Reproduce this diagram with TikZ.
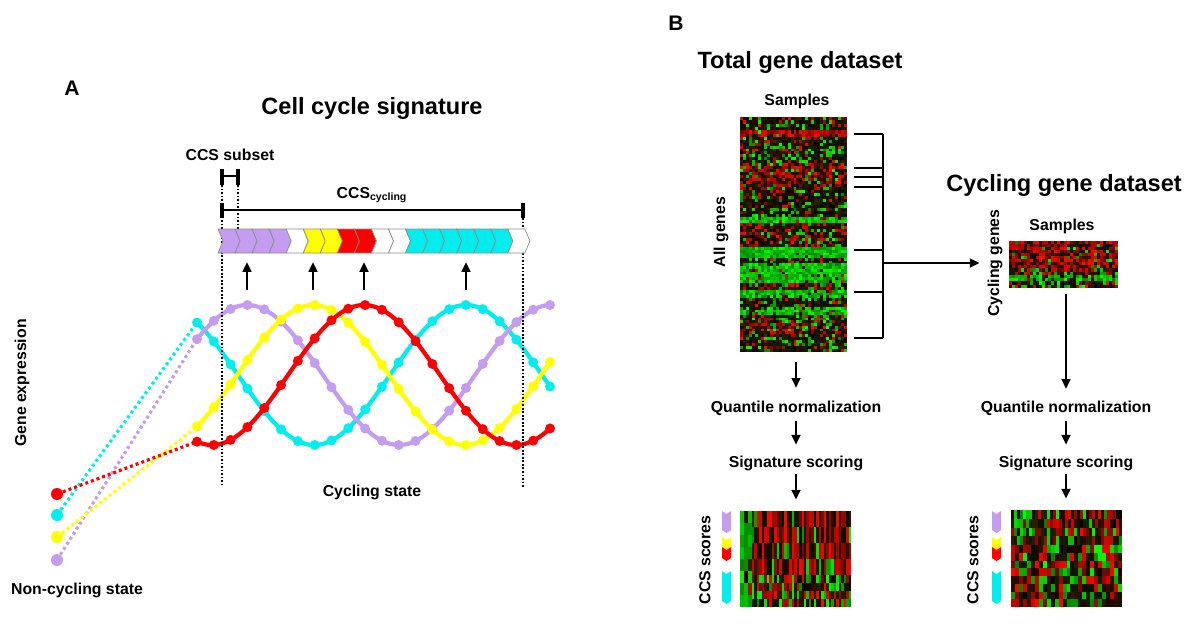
\documentclass[tikz,border=0pt]{standalone}
\usepackage{fontspec}
\setmainfont{Liberation Sans}
\usetikzlibrary{arrows.meta, positioning, calc}

\definecolor{ccsPurple}{RGB}{196,156,240}
\definecolor{ccsYellow}{RGB}{255,255,0}
\definecolor{ccsRed}{RGB}{255,0,0}
\definecolor{ccsCyan}{RGB}{0,238,238}

% random expression block: x0,y0,x1,y1, cell w, cell h, p(red), p(green)
\newcommand{\heatblock}[8]{%
  \pgfmathtruncatemacro\hbnx{max(1,round((#3-#1)/#5))-1}%
  \pgfmathtruncatemacro\hbny{max(1,round((#4-#2)/#6))-1}%
  \pgfmathsetmacro\hbdx{(#3-#1)/(\hbnx+1)}%
  \pgfmathsetmacro\hbdy{(#4-#2)/(\hbny+1)}%
  \foreach \i in {0,...,\hbnx}{%
    \foreach \j in {0,...,\hbny}{%
      \pgfmathsetmacro\hbu{rnd}%
      \pgfmathsetmacro\hbv{rnd}%
      \pgfmathsetmacro\hbw{rnd}%
      \pgfmathtruncatemacro\hbr{\hbu<#7 ? 110+145*\hbv : ((\hbu<(#7+#8)) ? 15*\hbw : 50*\hbw)}%
      \pgfmathtruncatemacro\hbg{\hbu<#7 ? 15*\hbw : ((\hbu<(#7+#8)) ? 130+125*\hbv : 35*\hbv)}%
      \fill[fill={rgb,255:red,\hbr;green,\hbg;blue,0}] ({#1+\i*\hbdx},{#2+\j*\hbdy}) rectangle ++(\hbdx+0.3,\hbdy+0.3);
    }%
  }%
}

\begin{document}
\begin{tikzpicture}[
    x=0.02cm, y=-0.02cm,
    ttl/.style={font=\bfseries\fontsize{13.4}{16}\selectfont, inner sep=1pt},
    panel/.style={font=\bfseries\fontsize{12}{14}\selectfont, inner sep=1pt},
    lbl/.style={font=\bfseries\fontsize{9}{11}\selectfont, inner sep=1pt},
    arr/.style={-{Triangle[length=5.5pt, width=5pt]}, line width=1.1pt},
    tick/.style={line width=2pt},
    brk/.style={line width=1.1pt},
    vdot/.style={line width=1pt, dash pattern=on 1pt off 1pt},
    chev/.style={draw=black!45, line width=0.4pt},
    wave/.style={line width=2.4pt},
    link/.style={line width=1.8pt, dash pattern=on 1.7pt off 1.7pt},
    dot/.style={circle, inner sep=0pt, minimum size=0.24cm},
    mapbox/.style={inner sep=0pt, draw=none},
]
\pgfmathsetseed{4213}
\fill[white] (0,0) rectangle (1200,623);
\useasboundingbox (0,0) rectangle (1200,623);

% ---------------- panel A
\node[panel] (labA) at (72,88) {A};
\node[ttl] (ccsTitle) at (372,108) {Cell cycle signature};
\node[lbl] (subsetLbl) at (230,155) {CCS subset};
\node[lbl, anchor=base] (cyclingLbl) at (372,198) {CCS\textsubscript{cycling}};

\draw[tick] (222,169) -- (222,185);
\draw[tick] (238,169) -- (238,185);
\draw[brk] (222,176) -- (238,176);
\draw[tick] (222,203) -- (222,218);
\draw[tick] (523,203) -- (523,218);
\draw[brk] (222,210) -- (523,210);

% expression waves
\foreach \pk/\col in {466/ccsCyan, 247/ccsPurple, 313/ccsYellow, 364/ccsRed} {
  \draw[wave, \col] plot[domain=197:550, samples=70, smooth] (\x, {375-70*cos(((\x-\pk)/304)*360)});
  \foreach \k in {0,...,21}
    \fill[\col] ({197+\k*16.81}, {375-70*cos(((197+\k*16.81-\pk)/304)*360)}) circle (5);
}

\coordinate (sC) at (197,322.5);
\coordinate (sP) at (197,339);
\coordinate (sY) at (197,426.6);
\coordinate (sR) at (197,441.6);
\node[dot, fill=ccsRed] (dR) at (57,494) {};
\node[dot, fill=ccsCyan] (dC) at (57,515) {};
\node[dot, fill=ccsYellow] (dY) at (57,537) {};
\node[dot, fill=ccsPurple] (dP) at (57,560) {};
\draw[link, ccsCyan] (dC) -- (sC);
\draw[link, ccsPurple] (dP) -- (sP);
\draw[link, ccsYellow] (dY) -- (sY);
\draw[link, ccsRed] (dR) -- (sR);

\draw[vdot] (222,185) -- (222,487);
\draw[vdot] (238,185) -- (238,229);
\draw[vdot] (523,218) -- (523,487);

% signature bar
\foreach \c [count=\n from 0] in {ccsPurple,ccsPurple,ccsPurple,ccsPurple,white,ccsYellow,ccsYellow,ccsRed,ccsRed,white,white,ccsCyan,ccsCyan,ccsCyan,ccsCyan,ccsCyan,ccsCyan,white}
  \filldraw[chev, fill=\c] ({218+\n*17.05},229) -- ++(17.05,0) -- ++(5,12) -- ++(-5,12) -- ++(-17.05,0) -- ++(5,-12) -- cycle;
\node[mapbox, minimum width=6.24cm, minimum height=0.48cm] (bar) at (374,241) {};

\foreach \pk [count=\n] in {247,313,364,466} {
  \coordinate (pk\n) at (\pk,290);
  \draw[arr, shorten >=5pt] (pk\n) -- (pk\n |- bar.south);
}

\node[lbl, rotate=90] (geneExpr) at (22,383) {Gene expression};
\node[lbl] (cycState) at (372,492) {Cycling state};
\node[lbl] (nonCyc) at (77,590) {Non-cycling state};

% ---------------- panel B
\node[panel] (labB) at (676,23) {B};
\node[ttl] (totalTtl) at (800,62) {Total gene dataset};
\node[lbl] (samplesA) at (797,101) {Samples};

\foreach \ya/\yb/\pr/\pg in {117/130/0.15/0.2, 130/137/0.75/0.05, 137/163/0.1/0.25, 163/190/0.4/0.1,
    190/217/0.15/0.15, 217/223/0.05/0.85, 223/247/0.3/0.12, 247/258/0.02/0.95, 258/263/0.1/0.2,
    263/283/0.04/0.9, 283/290/0.3/0.15, 290/298/0.05/0.85, 298/307/0.12/0.2, 307/315/0.05/0.75,
    315/323/0.15/0.2, 323/337/0.35/0.12, 337/352/0.12/0.25}
  \heatblock{740}{\ya}{847}{\yb}{3}{3}{\pr}{\pg};
\node[mapbox, minimum width=2.14cm, minimum height=4.7cm] (totalMap) at (793.5,234.5) {};
\node[lbl, rotate=90] (allGenes) at (721,232) {All genes};

\foreach \y in {134,168,177,187,250,292,338}
  \draw[brk] (854,\y) -- (883,\y);
\draw[brk] (883,134) -- (883,338);
\coordinate (brkMid) at (883,263);

\node[ttl] (cycTtl) at (1064,185) {Cycling gene dataset};
\node[lbl] (samplesB) at (1062,226) {Samples};
\foreach \ya/\yb/\pr/\pg in {241/268/0.55/0.08, 268/275/0.25/0.15, 275/281/0.05/0.8, 281/288/0.2/0.2}
  \heatblock{1009}{\ya}{1118}{\yb}{3}{3}{\pr}{\pg};
\node[mapbox, minimum width=2.18cm, minimum height=0.94cm] (cycMap) at (1063.5,264.5) {};
\node[lbl, rotate=90] (cycGenes) at (995,263) {Cycling genes};
\draw[arr, shorten >=3.4pt] (brkMid) -- (brkMid -| cycGenes.north);

% processing steps
\node[lbl, anchor=base] (qnA) at (796,412.5) {Quantile normalization};
\node[lbl, anchor=base] (ssA) at (796,467) {Signature scoring};
\node[lbl, anchor=base] (qnB) at (1066,412.5) {Quantile normalization};
\node[lbl, anchor=base] (ssB) at (1066,467) {Signature scoring};

% score maps
\heatblock{740}{511}{752}{607}{4}{12}{0.02}{0.85}
\heatblock{752}{511}{851}{575}{2.5}{16}{0.45}{0.12}
\heatblock{752}{575}{851}{607}{2.5}{8}{0.3}{0.25}
\heatblock{1011}{510}{1122}{545}{3}{9}{0.3}{0.25}
\heatblock{1011}{545}{1122}{607}{4}{8}{0.28}{0.3}
\node[mapbox, minimum width=2.22cm, minimum height=1.92cm] (scoreA) at (795.5,559) {};
\node[mapbox, minimum width=2.22cm, minimum height=1.94cm] (scoreB) at (1066.5,558.5) {};

\foreach \bx in {722,992}
  \foreach \ya/\yb/\col in {511/530/ccsPurple, 537/547/ccsYellow, 547/558/ccsRed, 571/601/ccsCyan}
    \fill[\col] (\bx,\ya) -- ++(4.5,3) -- ++(4.5,-3) -- (\bx+9,\yb) -- ++(-4.5,3) -- ++(-4.5,-3) -- cycle;
\node[lbl, rotate=90] (scoresA) at (705,560) {CCS scores};
\node[lbl, rotate=90] (scoresB) at (973,560) {CCS scores};

\draw[arr, shorten <=5.7pt, shorten >=6.4pt] (totalMap.south -| qnA.north) -- (qnA.north);
\draw[arr, shorten <=1.7pt, shorten >=5pt] (qnA) -- (ssA);
\draw[arr, shorten <=0.6pt, shorten >=6.3pt] (ssA.south) -- (ssA.south |- scoreA.north);
\draw[arr, shorten <=3.4pt, shorten >=5.8pt] (cycMap.south -| qnB.north) -- (qnB.north);
\draw[arr, shorten <=1.7pt, shorten >=5pt] (qnB) -- (ssB);
\draw[arr, shorten <=0.6pt, shorten >=6.3pt] (ssB.south) -- (ssB.south |- scoreB.north);

\end{tikzpicture}
\end{document}
